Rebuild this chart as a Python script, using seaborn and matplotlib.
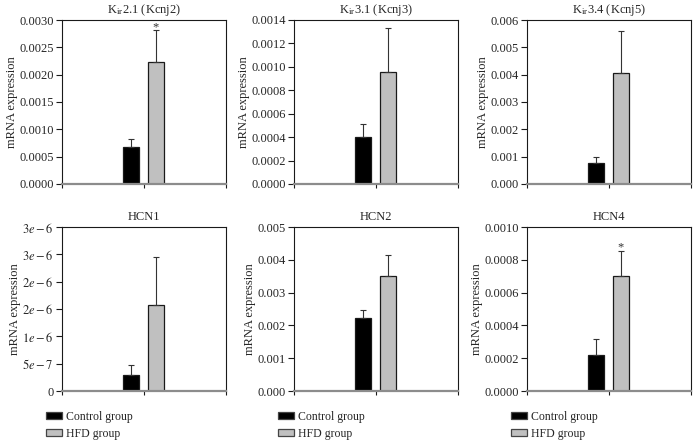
import numpy as np
import pandas as pd
import matplotlib
matplotlib.use("Agg")
import matplotlib.pyplot as plt
from matplotlib.patches import Patch
import seaborn as sns

# ---------------- data ----------------
groups = ["Control group", "HFD group"]
titles = [r"K$_{\rm ir}$2.1 (Kcnj2)", r"K$_{\rm ir}$3.1 (Kcnj3)", r"K$_{\rm ir}$3.4 (Kcnj5)",
          "HCN1", "HCN2", "HCN4"]
means = [
    [0.00067, 0.00223],
    [0.000399, 0.000958],
    [0.00078, 0.00405],
    [3.0e-7, 1.567e-6],
    [0.002236, 0.003496],
    [0.000220, 0.000701],
]
errors = [
    [0.000161, 0.000586],
    [0.000117, 0.000371],
    [0.00022, 0.00156],
    [1.76e-7, 8.83e-7],
    [0.000244, 0.000661],
    [0.000097, 0.000155],
]
significant = [
    [False, True],
    [False, False],
    [False, False],
    [False, False],
    [False, False],
    [False, True],
]
ytick_values = [
    [0.0, 0.0005, 0.0010, 0.0015, 0.0020, 0.0025, 0.0030],
    [0.0, 0.0002, 0.0004, 0.0006, 0.0008, 0.0010, 0.0012, 0.0014],
    [0.0, 0.001, 0.002, 0.003, 0.004, 0.005, 0.006],
    [0.0, 5e-7, 1e-6, 1.5e-6, 2e-6, 2.5e-6, 3e-6],
    [0.0, 0.001, 0.002, 0.003, 0.004, 0.005],
    [0.0, 0.0002, 0.0004, 0.0006, 0.0008, 0.0010],
]
ytick_labels = [
    ["0.0000", "0.0005", "0.0010", "0.0015", "0.0020", "0.0025", "0.0030"],
    ["0.0000", "0.0002", "0.0004", "0.0006", "0.0008", "0.0010", "0.0012", "0.0014"],
    ["0.000", "0.001", "0.002", "0.003", "0.004", "0.005", "0.006"],
    ["0", r"$5e-7$", r"$1e-6$", r"$2e-6$", r"$2e-6$", r"$3e-6$", r"$3e-6$"],
    ["0.000", "0.001", "0.002", "0.003", "0.004", "0.005"],
    ["0.0000", "0.0002", "0.0004", "0.0006", "0.0008", "0.0010"],
]
ylabel = "mRNA expression"

# ---------------- style ----------------
sns.set_style("white")
plt.rcParams["font.family"] = ["Liberation Serif", "DejaVu Serif"]
plt.rcParams["mathtext.fontset"] = "stix"

bar_colors = ["#000000", "#c0c0c0"]
dark = "#1a1a1a"

fig = plt.figure(figsize=(6.98, 4.45), dpi=100)
lefts = [62, 294, 527]
tops = [20, 227]
W, H = 164, 164
FW, FH = 698, 445

for i in range(6):
    r, c = divmod(i, 3)
    ax = fig.add_axes([lefts[c] / FW, 1 - (tops[r] + H) / FH, W / FW, H / FH])
    df = pd.DataFrame({"group": groups, "value": means[i]})
    sns.barplot(data=df, x="group", y="value", hue="group", order=groups,
                hue_order=groups, palette=bar_colors, width=0.65,
                edgecolor=dark, linewidth=0.9, legend=False, ax=ax,
                errorbar=None)
    xpos = np.arange(len(groups))
    ax.errorbar(xpos, means[i], yerr=[np.zeros(len(groups)), errors[i]],
                fmt="none", ecolor="#333333", elinewidth=0.8, capsize=2.4,
                capthick=0.8, zorder=1)
    for j in range(len(groups)):
        if significant[i][j]:
            ax.annotate("*", (xpos[j], means[i][j] + errors[i][j]),
                        xytext=(0, 0), textcoords="offset points",
                        ha="center", va="baseline", fontsize=9, color="#333333")
    ax.set_xlim(-2.82, 3.85)
    ax.set_ylim(ytick_values[i][0], ytick_values[i][-1])
    ax.set_yticks(ytick_values[i])
    ax.set_yticklabels(ytick_labels[i], fontsize=9)
    ax.set_xticks([-2.82, 0.5, 3.85])
    ax.set_xticklabels([])
    ax.set_xlabel("")
    ax.set_ylabel(ylabel, fontsize=9, labelpad=1)
    ax.set_title(titles[i], fontsize=9, pad=5)
    for s in ["left", "top", "right"]:
        ax.spines[s].set_color(dark)
        ax.spines[s].set_linewidth(0.8)
        ax.spines[s].set_visible(True)
    ax.spines["bottom"].set_color("#8c8c8c")
    ax.spines["bottom"].set_linewidth(1.6)
    ax.spines["bottom"].set_visible(True)
    ax.tick_params(axis="y", direction="out", length=4, width=0.8, color=dark,
                   left=True, pad=2)
    ax.tick_params(axis="x", direction="out", length=3, width=0.8, color=dark,
                   bottom=True)
    if r == 1:
        handles = [Patch(facecolor=bar_colors[k], edgecolor="#444444", linewidth=0.9)
                   for k in range(len(groups))]
        ax.legend(handles, groups, loc="upper left", bbox_to_anchor=(-0.1, -0.12),
                  frameon=False, fontsize=8.5, handlelength=1.35, handleheight=0.45,
                  handletextpad=0.4, labelspacing=0.42, borderpad=0,
                  borderaxespad=0)

fig.savefig("out.png", dpi=100)
